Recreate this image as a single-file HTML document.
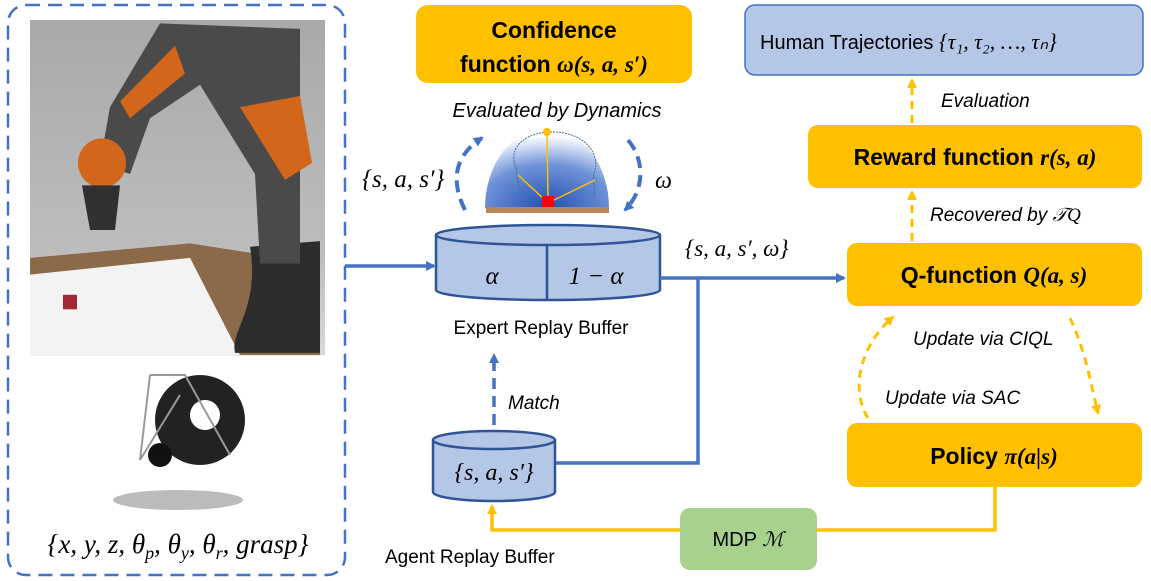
<!DOCTYPE html>
<html><head><meta charset="utf-8"><style>
body{margin:0;background:#fff}
svg{display:block;font-family:"Liberation Sans",sans-serif}
.m{font-family:"Liberation Serif",serif;font-style:italic}
</style></head><body>
<svg width="1151" height="581" viewBox="0 0 1151 581">
<defs>
<marker id="ab" markerWidth="10" markerHeight="10" refX="8" refY="5" orient="auto" markerUnits="userSpaceOnUse"><path d="M0,0 L10,5 L0,10 Z" fill="#4472C4"/></marker>
<marker id="ao" markerWidth="10" markerHeight="10" refX="8" refY="5" orient="auto" markerUnits="userSpaceOnUse"><path d="M0,0 L10,5 L0,10 Z" fill="#FFC000"/></marker>
<radialGradient id="dome" cx="0.5" cy="1" r="0.9"><stop offset="0" stop-color="#1f4fb0"/><stop offset="0.6" stop-color="#6f93d8"/><stop offset="1" stop-color="#fff"/></radialGradient>
<linearGradient id="room" x1="0" y1="0" x2="0" y2="1"><stop offset="0" stop-color="#a9a9a9"/><stop offset="0.7" stop-color="#bdbdbd"/><stop offset="1" stop-color="#d8d8d8"/></linearGradient>
</defs>
<!-- left panel -->
<rect x="8" y="5" width="337" height="570" rx="18" fill="#fff" stroke="#4472C4" stroke-width="2.5" stroke-dasharray="14,8"/>
<g transform="translate(0,20) scale(1,1.117) translate(0,-22)">
<rect x="30" y="22" width="295" height="300" fill="url(#room)"/>
<path d="M30,235 L190,222 L320,240 L320,322 L30,322Z" fill="#8a6a48"/>
<path d="M30,250 L190,235 L240,322 L30,322Z" fill="#f3f3f3"/>
<path d="M250,225 C260,280 230,300 235,320 L320,320 L320,220Z" fill="#2c2c2c"/>
<path d="M160,25 L300,30 L300,240 L260,240 L255,160 L200,80 L150,110 L130,160 L100,150 L110,100Z" fill="#4a4a4a"/>
<path d="M175,45 L185,70 L130,110 L120,95Z" fill="#d2661a"/>
<path d="M240,100 L300,90 L312,150 L285,165Z" fill="#d2661a"/>
<ellipse cx="102" cy="150" rx="24" ry="22" fill="#d2661a"/>
<path d="M82,170 L120,170 L115,210 L90,210Z" fill="#303030"/>
<rect x="63" y="268" width="14" height="13" fill="#a32836"/>
</g>
<g transform="translate(0,15)">
<ellipse cx="178" cy="485" rx="65" ry="10" fill="#bbb"/>
<circle cx="200" cy="405" r="45" fill="#222"/><circle cx="205" cy="400" r="15" fill="#fff"/>
<circle cx="160" cy="440" r="12" fill="#111"/>
<path d="M150,360 L185,360 L230,440 M150,360 L140,445 M180,380 L140,445" stroke="#999" stroke-width="2" fill="none"/>
</g>
<text x="178" y="553" text-anchor="middle" class="m" font-size="27">{x, y, z, θ<tspan font-size="18" dy="6">p</tspan><tspan dy="-6">, θ</tspan><tspan font-size="18" dy="6">y</tspan><tspan dy="-6">, θ</tspan><tspan font-size="18" dy="6">r</tspan><tspan dy="-6">, grasp}</tspan></text>
<!-- confidence -->
<rect x="416" y="5" width="276" height="78" rx="12" fill="#FFC000"/>
<text x="554" y="38" text-anchor="middle" font-size="23" font-weight="bold">Confidence</text>
<text x="554" y="72" text-anchor="middle" font-size="23" font-weight="bold">function <tspan class="m">ω(s, a, s′)</tspan></text>
<text x="557" y="117" text-anchor="middle" font-size="20" font-style="italic">Evaluated by Dynamics</text>
<!-- dome -->
<path d="M485,208 A62,80 0 0 1 609,208Z" fill="url(#dome)"/>
<rect x="486" y="207" width="123" height="6" fill="#b8865a"/>
<path d="M547,132 C520,135 510,150 515,165 C520,180 515,190 525,195 M547,132 C580,130 600,150 595,170 C590,185 600,195 590,198" stroke="#4a6aa0" stroke-dasharray="2,1" fill="none"/>
<path d="M518,175 L545,200 M547,132 L548,198 M595,180 L552,201" stroke="#FFC000" stroke-width="1.5"/>
<circle cx="547" cy="132" r="4" fill="#FFC000"/>
<rect x="542" y="196" width="12" height="11" fill="#f00"/>
<path d="M465,210 C450,180 455,155 482,138" stroke="#4472C4" stroke-width="4" stroke-dasharray="12,7" fill="none" marker-end="url(#ab)"/>
<path d="M628,140 C645,160 645,190 625,210" stroke="#4472C4" stroke-width="4" stroke-dasharray="12,7" fill="none" marker-end="url(#ab)"/>
<text x="362" y="187" class="m" font-size="25">{s, a, s′}</text>
<text x="655" y="188" class="m" font-size="24">ω</text>
<!-- expert cylinder -->
<path d="M436,235 L436,290 A112,10 0 0 0 660,290 L660,235" fill="#B4C7E7" stroke="#2F5597" stroke-width="2.5"/>
<ellipse cx="548" cy="235" rx="112" ry="10" fill="#B4C7E7" stroke="#2F5597" stroke-width="2.5"/>
<line x1="547" y1="245" x2="547" y2="300" stroke="#2F5597" stroke-width="2.5"/>
<text x="492" y="284" text-anchor="middle" class="m" font-size="25">α</text>
<text x="596" y="284" text-anchor="middle" class="m" font-size="25" font-style="normal">1 − <tspan font-style="italic">α</tspan></text>
<text x="541" y="334" text-anchor="middle" font-size="19">Expert Replay Buffer</text>
<!-- agent cylinder -->
<path d="M433,440 L433,492 A61,9 0 0 0 555,492 L555,440" fill="#B4C7E7" stroke="#2F5597" stroke-width="2.5"/>
<ellipse cx="494" cy="440" rx="61" ry="9" fill="#B4C7E7" stroke="#2F5597" stroke-width="2.5"/>
<text x="494" y="480" text-anchor="middle" class="m" font-size="24">{s, a, s′}</text>
<text x="385" y="563" font-size="19">Agent Replay Buffer</text>
<!-- blue lines -->
<line x1="345" y1="266" x2="434" y2="266" stroke="#4472C4" stroke-width="3.5" marker-end="url(#ab)"/>
<line x1="660" y1="278" x2="844" y2="278" stroke="#4472C4" stroke-width="3.5" marker-end="url(#ab)"/>
<polyline points="698,278 698,463 556,463" stroke="#4472C4" stroke-width="3.5" fill="none"/>
<line x1="494" y1="425" x2="494" y2="355" stroke="#4472C4" stroke-width="3.5" stroke-dasharray="11,7" marker-end="url(#ab)"/>
<text x="508" y="409" font-size="19" font-style="italic">Match</text>
<text x="685" y="256" class="m" font-size="23">{s, a, s′, ω}</text>
<!-- right side -->
<rect x="745" y="5" width="398" height="70" rx="10" fill="#B4C7E7" stroke="#4472C4" stroke-width="1.5"/>
<text x="760" y="49" font-size="20">Human Trajectories <tspan class="m" font-size="22">{τ₁, τ₂, …, τₙ}</tspan></text>
<rect x="808" y="125" width="334" height="63" rx="10" fill="#FFC000"/>
<text x="975" y="165" text-anchor="middle" font-size="23" font-weight="bold">Reward function <tspan class="m">r(s, a)</tspan></text>
<rect x="847" y="243" width="295" height="63" rx="10" fill="#FFC000"/>
<text x="994" y="283" text-anchor="middle" font-size="23" font-weight="bold">Q-function <tspan class="m">Q(a, s)</tspan></text>
<rect x="847" y="423" width="295" height="64" rx="10" fill="#FFC000"/>
<text x="994" y="464" text-anchor="middle" font-size="23" font-weight="bold">Policy <tspan class="m">π(a|s)</tspan></text>
<line x1="912" y1="123" x2="912" y2="80" stroke="#FFC000" stroke-width="3" stroke-dasharray="8,6" marker-end="url(#ao)"/>
<line x1="912" y1="241" x2="912" y2="192" stroke="#FFC000" stroke-width="3" stroke-dasharray="8,6" marker-end="url(#ao)"/>
<text x="941" y="107" font-size="19" font-style="italic">Evaluation</text>
<text x="930" y="221" font-size="19" font-style="italic">Recovered by <tspan class="m">𝒯Q</tspan></text>
<path d="M1070,318 C1085,350 1090,380 1098,413" stroke="#FFC000" stroke-width="3" stroke-dasharray="8,6" fill="none" marker-end="url(#ao)"/>
<path d="M868,418 C850,390 860,345 893,317" stroke="#FFC000" stroke-width="3" stroke-dasharray="8,6" fill="none" marker-end="url(#ao)"/>
<text x="913" y="345" font-size="19" font-style="italic">Update via CIQL</text>
<text x="885" y="404" font-size="19" font-style="italic">Update via SAC</text>
<!-- MDP -->
<polyline points="995,487 995,530 817,530" stroke="#FFC000" stroke-width="3.5" fill="none"/>
<polyline points="680,530 492,530 492,506" stroke="#FFC000" stroke-width="3.5" fill="none" marker-end="url(#ao)"/>
<rect x="680" y="508" width="137" height="62" rx="10" fill="#A9D18E"/>
<text x="748" y="546" text-anchor="middle" font-size="20">MDP <tspan class="m">ℳ</tspan></text>
</svg>
</body></html>
